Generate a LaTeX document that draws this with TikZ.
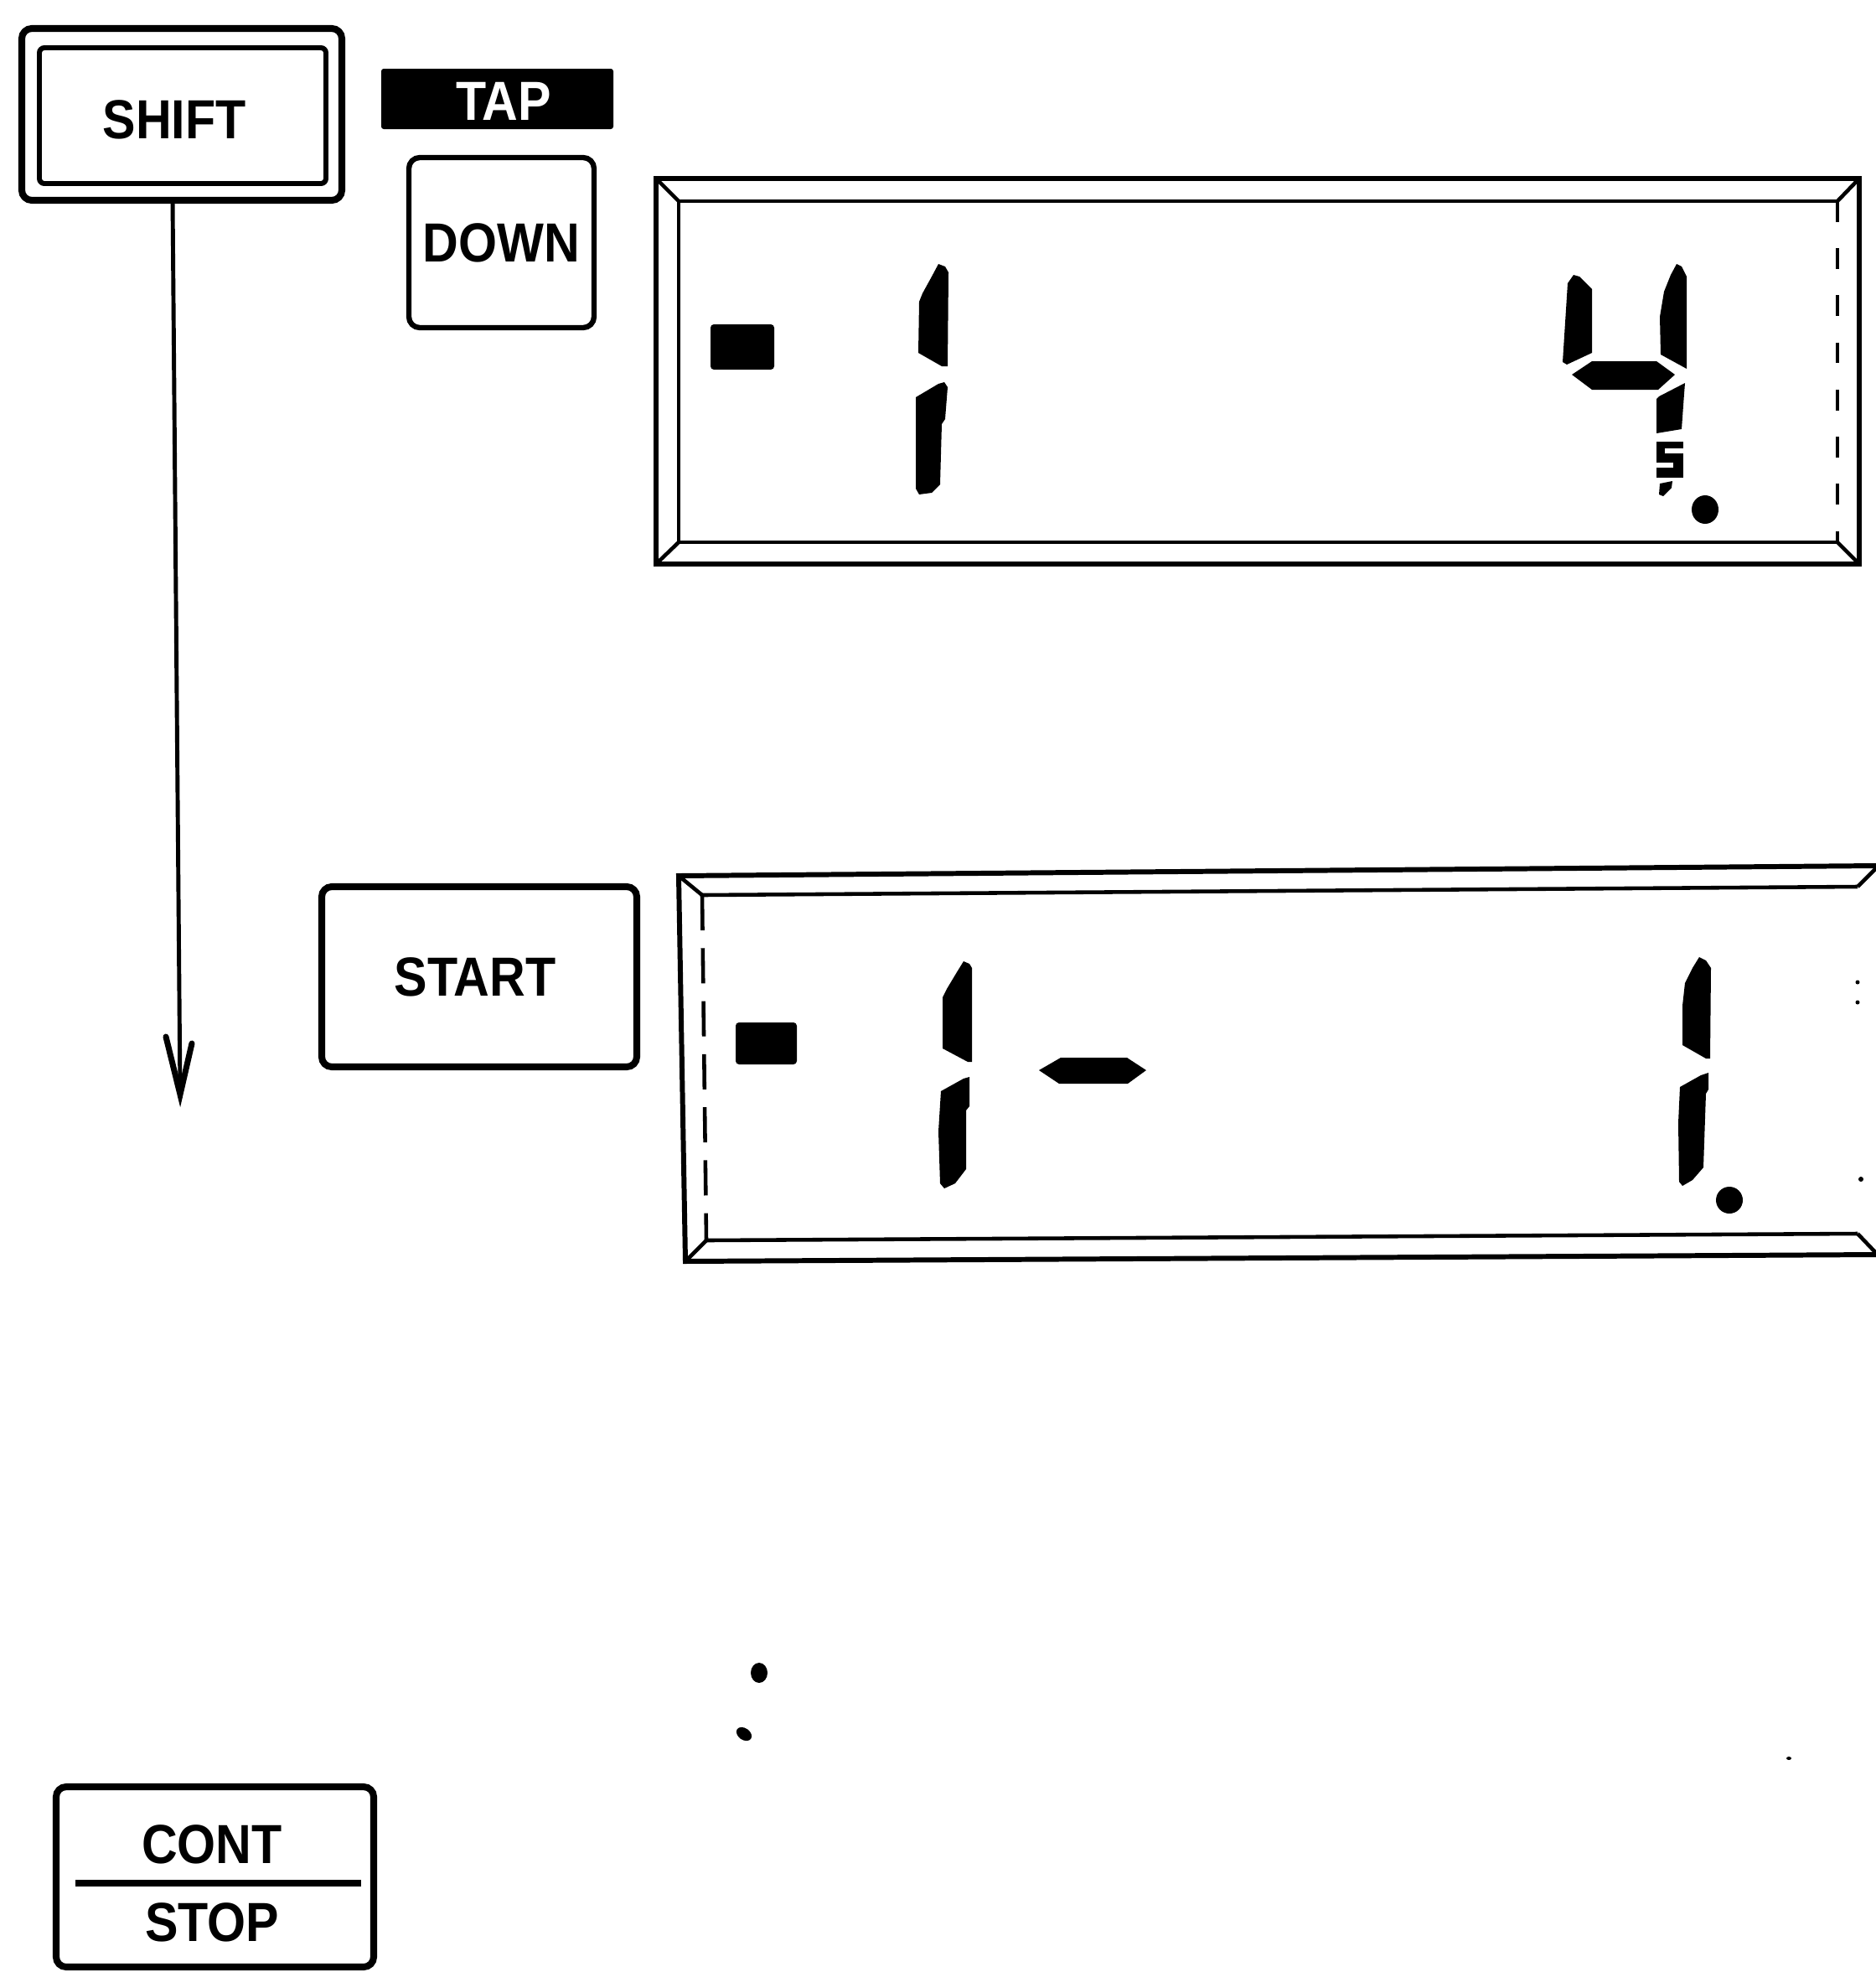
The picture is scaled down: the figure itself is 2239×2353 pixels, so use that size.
\documentclass[tikz,border=0pt]{standalone}
\usepackage{fontspec}
\setmainfont{Liberation Sans}
\usepackage{graphicx}
\newcommand{\keytxt}[1]{\scalebox{0.9}[1]{\fontsize{18.7pt}{20pt}\selectfont\bfseries #1}}
\tikzset{
  keybox/.style={draw, line width=2.3pt, rounded corners=1.2mm, inner sep=0pt},
  keyboxthin/.style={draw, line width=1.8pt, rounded corners=1.3mm, inner sep=0pt},
  tapbox/.style={fill=black, rounded corners=0.3mm, inner sep=0pt},
  dispouter/.style={line width=1.7pt},
  dispinner/.style={line width=1.3pt},
  seg/.style={fill=black, draw=none},
  conn/.style={line width=1.4pt},
  headline/.style={line width=2pt, line cap=round, line join=miter}
}
\begin{document}
\begin{tikzpicture}[x=0.1mm,y=-0.1mm]
\useasboundingbox (0,0) rectangle (2239,2353);
\fill[white] (0,0) rectangle (2239,2353);

% SHIFT key (double frame)
\node[keybox, minimum width=38.2mm, minimum height=20.5mm] (shift) at (217,136.5) {};
\draw[line width=1.7pt, rounded corners=0.6mm] (47,57) rectangle (389,219);
\node (shiftlbl) at (208,143) {\keytxt{SHIFT}};

% TAP label and DOWN key
\node[tapbox, minimum width=27.7mm, minimum height=7.2mm] (tap) at (593.5,118) {};
\node[text=white] (taplbl) at (601,121) {\keytxt{TAP}};
\node[keyboxthin, minimum width=22.1mm, minimum height=20.3mm] (down) at (598.5,289.5) {\keytxt{DOWN}};

% START key
\node[keybox, minimum width=37.6mm, minimum height=21.5mm] (start) at (572,1165.5) {};
\node (startlbl) at (567,1166) {\keytxt{START}};

% CONT / STOP key
\node[keybox, minimum width=37.9mm, minimum height=21.5mm] (cont) at (256.5,2239.5) {};
\node (contlbl) at (253,2201) {\keytxt{CONT}};
\node (stoplbl) at (253,2294) {\keytxt{STOP}};
\draw[line width=2.2pt] (90,2247) -- (431,2247);

% arrow from SHIFT downwards
\coordinate (atop) at (206,239);
\coordinate (abot) at (215,1306);
\coordinate (hl) at (198,1237);
\coordinate (hr) at (229,1245);
\draw[conn] (atop) -- (abot);
\draw[headline] (hl) -- (abot) -- (hr);

% ---------- Display 1 ----------
\draw[dispouter] (783,213) rectangle (2219,673);
\draw[dispinner] (2193,240) -- (810,240) -- (810,647) -- (2193,647);
\draw[dispinner, dash pattern=on 7pt off 9pt] (2193,240) -- (2193,647);
\draw[dispinner] (783,213) -- (810,240);
\draw[dispinner] (2219,213) -- (2193,240);
\draw[dispinner] (783,673) -- (810,647);
\draw[dispinner] (2219,673) -- (2193,647);
% minus sign
\fill[rounded corners=0.4mm] (848,387) rectangle (924,441);
% digit 1
\fill[seg] (1120,315) -- (1128,318) -- (1132,325) -- (1131,437) -- (1124,437) -- (1096,421) -- (1097,360) -- (1101,350) -- (1112,330) -- cycle;
\fill[seg] (1093,474) -- (1120,458) -- (1127,456) -- (1131,462) -- (1128,500) -- (1124,506) -- (1122,578) -- (1112,588) -- (1097,590) -- (1093,583) -- cycle;
% digit 4
\fill[seg] (1878,328) -- (1885,330) -- (1900,345) -- (1900,421) -- (1870,435) -- (1865,432) -- (1868,385) -- (1871,338) -- cycle;
\fill[seg] (2001,315) -- (2007,318) -- (2013,330) -- (2013,440) -- (1982,423) -- (1981,378) -- (1986,348) -- (1994,328) -- cycle;
\fill[seg] (1876,447) -- (1900,431) -- (1977,431) -- (1999,447) -- (1979,465) -- (1900,465) -- cycle;
\fill[seg] (1980,473) -- (2011,457) -- (2010,470) -- (2007,512) -- (1977,517) -- (1977,476) -- cycle;
\fill[seg] (1977,527) rectangle (2009,570);
\fill[white] (1987,535) rectangle (2011,541);
\fill[white] (1975,552) rectangle (1997,558);
\fill[seg] (1981,577) -- (1996,574) -- (1995,582) -- (1985,592) -- (1980,590) -- cycle;
\fill (2035,608) ellipse [x radius=16, y radius=17];

% ---------- Display 2 ----------
\draw[dispouter] (2239,1033) -- (810,1045) -- (818,1505) -- (2239,1497);
\draw[dispinner] (2217,1058) -- (838,1068);
\draw[dispinner, dash pattern=on 12pt off 6pt] (838,1068) -- (843,1480);
\draw[dispinner] (843,1480) -- (2217,1472);
\draw[dispinner] (810,1045) -- (838,1068);
\draw[dispinner] (818,1505) -- (843,1480);
\draw[dispinner] (2217,1058) -- (2239,1036);
\draw[dispinner] (2217,1472) -- (2239,1495);
\fill (2217,1172) circle (2.5);
\fill (2217,1196) circle (2.5);
\fill (2221,1407) circle (3);
% minus sign
\fill[rounded corners=0.4mm] (878,1220) rectangle (951,1270);
% digit 1
\fill[seg] (1150,1147) -- (1157,1150) -- (1160,1155) -- (1160,1267) -- (1155,1267) -- (1125,1251) -- (1125,1190) -- (1130,1180) -- (1142,1160) -- cycle;
\fill[seg] (1123,1302) -- (1150,1287) -- (1157,1285) -- (1157,1320) -- (1153,1325) -- (1153,1395) -- (1140,1412) -- (1127,1418) -- (1122,1412) -- (1120,1350) -- cycle;
% dash segment
\fill[seg] (1240,1277) -- (1266,1262) -- (1345,1262) -- (1368,1277) -- (1346,1293) -- (1264,1293) -- cycle;
% right digit 1
\fill[seg] (2028,1142) -- (2036,1146) -- (2042,1155) -- (2041,1263) -- (2036,1263) -- (2008,1247) -- (2008,1200) -- (2011,1173) -- (2020,1155) -- cycle;
\fill[seg] (2005,1297) -- (2030,1283) -- (2039,1280) -- (2039,1300) -- (2036,1305) -- (2033,1393) -- (2020,1408) -- (2008,1415) -- (2004,1410) -- (2003,1340) -- cycle;
\fill (2064,1432) circle (16);

% stray dots
\fill (906,1996) ellipse [x radius=10, y radius=12];
\fill[rotate around={-35:(888,2069)}] (888,2069) ellipse [x radius=10, y radius=7];
\fill (2135,2098) ellipse [x radius=3, y radius=2];
\end{tikzpicture}
\end{document}
